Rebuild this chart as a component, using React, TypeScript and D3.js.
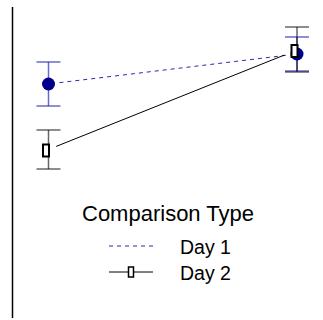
import React from "react";
import * as d3 from "d3";

const categories = ["Session 1", "Session 2"];
const seriesNames = ["Day 1", "Day 2"];
const day1Mean = [58, 73];
const day1Lower = [47, 64.5];
const day1Upper = [69, 81.5];
const day2Mean = [24.75, 74.5];
const day2Lower = [15.5, 64];
const day2Upper = [35, 86.5];
const legendTitle = "Comparison Type";

const W = 323;
const H = 320;
const FONT = "'Liberation Sans', Arial, Helvetica, sans-serif";

export default function App() {
  const x = d3.scalePoint<string>().domain(categories).range([48.5, 297]);
  const y = d3.scaleLinear().domain([0, 100]).range([200, 0]);

  const series = [
    {
      name: seriesNames[0],
      mean: day1Mean,
      lo: day1Lower,
      hi: day1Upper,
      dodge: 0,
      lineColor: "#2a2ab0",
      dash: "4,4",
      errColor: "rgba(40,40,180,0.7)",
      marker: "circle",
    },
    {
      name: seriesNames[1],
      mean: day2Mean,
      lo: day2Lower,
      hi: day2Upper,
      dodge: -2.5,
      lineColor: "#000",
      dash: null as string | null,
      errColor: "rgba(0,0,0,0.6)",
      marker: "rect",
    },
  ];

  const gap = 11;
  const capHalf = 12;

  return (
    <svg width={W} height={H} style={{ position: "absolute", left: 0, top: 0 }}>
      <rect width={W} height={H} fill="#fff" />
      <line x1={12.5} x2={12.5} y1={7} y2={318} stroke="#000" strokeWidth={1.5} />
      {series.map((s) => {
        const pts = categories.map((c, i) => [(x(c) as number) + s.dodge, y(s.mean[i])] as [number, number]);
        const segs: [number, number, number, number][] = [];
        for (let i = 0; i < pts.length - 1; i++) {
          const [x0, y0] = pts[i];
          const [x1, y1] = pts[i + 1];
          const len = Math.hypot(x1 - x0, y1 - y0);
          const ux = (x1 - x0) / len;
          const uy = (y1 - y0) / len;
          segs.push([x0 + ux * gap, y0 + uy * gap, x1 - ux * gap, y1 - uy * gap]);
        }
        return (
          <g key={s.name}>
            {categories.map((c, i) => {
              const cx = x(c) as number;
              return (
                <g key={c} stroke={s.errColor} strokeWidth={1.5}>
                  <line x1={cx} x2={cx} y1={y(s.hi[i])} y2={y(s.lo[i])} />
                  <line x1={cx - capHalf} x2={cx + capHalf} y1={y(s.hi[i])} y2={y(s.hi[i])} />
                  <line x1={cx - capHalf} x2={cx + capHalf} y1={y(s.lo[i])} y2={y(s.lo[i])} />
                </g>
              );
            })}
            {segs.map((sg, i) => (
              <line
                key={i}
                x1={sg[0]}
                y1={sg[1]}
                x2={sg[2]}
                y2={sg[3]}
                stroke={s.lineColor}
                strokeWidth={1}
                strokeDasharray={s.dash ?? undefined}
              />
            ))}
          </g>
        );
      })}
      {series.map((s) =>
        categories.map((c, i) => {
          const cx = (x(c) as number) + s.dodge;
          const cy = y(s.mean[i]);
          return s.marker === "circle" ? (
            <circle key={s.name + c} cx={cx} cy={cy} r={6.5} fill="#00008b" />
          ) : (
            <rect key={s.name + c} x={cx - 3} y={cy - 6} width={6} height={12} fill="#fff" stroke="#000" strokeWidth={2} />
          );
        })
      )}
      <text x={82} y={221} fontFamily={FONT} fontSize={22} fill="#000">
        {legendTitle}
      </text>
      {series.map((s, i) => {
        const ly = 246 + i * 26;
        return (
          <g key={s.name}>
            <line
              x1={109}
              x2={153}
              y1={ly}
              y2={ly}
              stroke={s.lineColor}
              strokeWidth={1}
              strokeDasharray={s.dash ?? undefined}
            />
            {s.marker === "rect" && (
              <rect x={128.5} y={ly - 5} width={5} height={10} fill="#fff" stroke="#000" strokeWidth={1.5} />
            )}
            <text x={180} y={ly + 8} fontFamily={FONT} fontSize={19.5} fill="#000">
              {s.name}
            </text>
          </g>
        );
      })}
    </svg>
  );
}
